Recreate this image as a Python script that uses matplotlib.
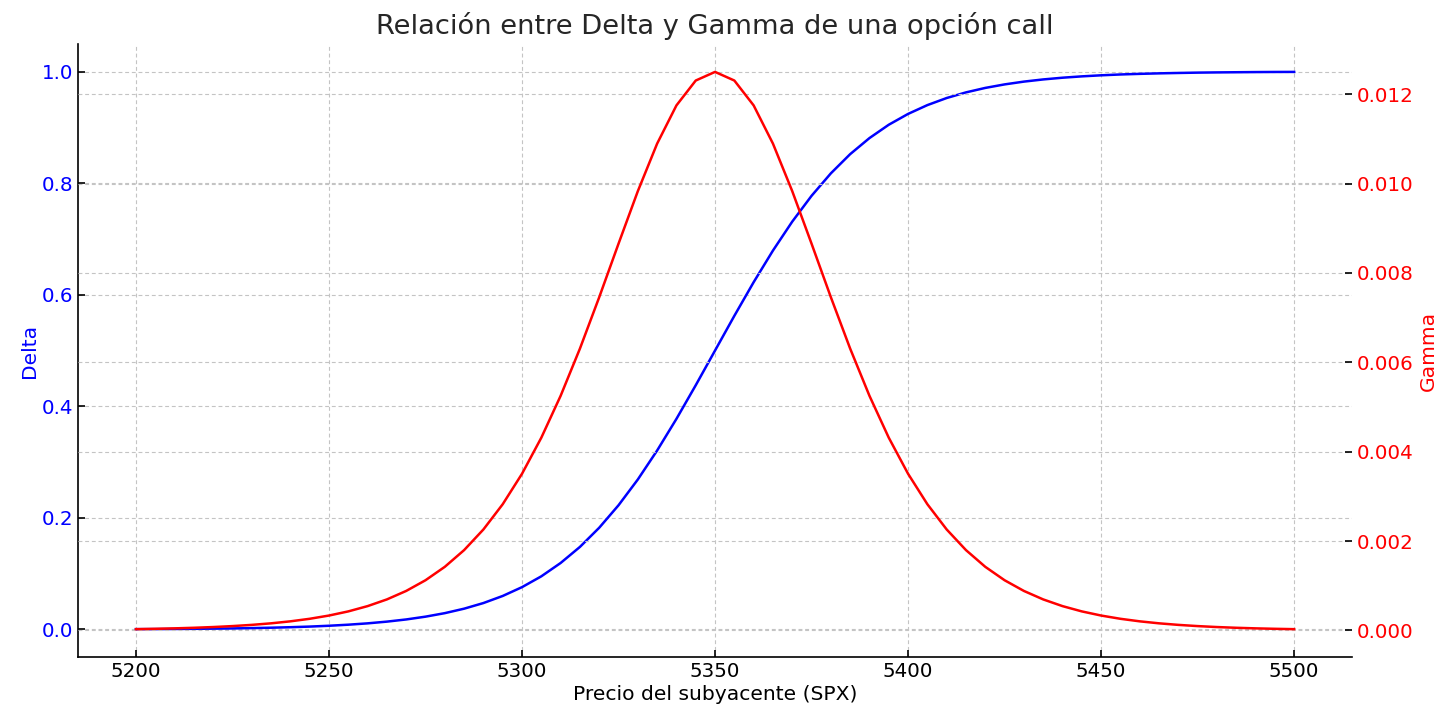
import numpy as np
import matplotlib
matplotlib.use("Agg")
import matplotlib.pyplot as plt

# Underlying price grid (SPX), step 5
precio = np.arange(5200, 5501, 5)

# Delta of the call
delta = [0.0006, 0.0007, 0.0009, 0.0012, 0.0015, 0.0019, 0.0025, 0.0032,
         0.0041, 0.0052, 0.0067, 0.0086, 0.0110, 0.0141, 0.0180, 0.0230,
         0.0293, 0.0373, 0.0474, 0.0601, 0.0759, 0.0953, 0.1192, 0.1480,
         0.1824, 0.2227, 0.2689, 0.3208, 0.3775, 0.4378, 0.5000, 0.5622,
         0.6225, 0.6792, 0.7311, 0.7773, 0.8176, 0.8520, 0.8808, 0.9047,
         0.9241, 0.9399, 0.9526, 0.9627, 0.9707, 0.9770, 0.9820, 0.9859,
         0.9890, 0.9914, 0.9933, 0.9948, 0.9959, 0.9968, 0.9975, 0.9981,
         0.9985, 0.9988, 0.9991, 0.9993, 0.9994]

# Gamma of the call
gamma = [0.0000276, 0.0000355, 0.0000455, 0.0000584, 0.0000749, 0.0000962,
         0.0001234, 0.0001581, 0.0002027, 0.0002596, 0.0003324, 0.0004251,
         0.0005433, 0.0006933, 0.0008831, 0.0011224, 0.0014226, 0.0017967,
         0.0022588, 0.0028238, 0.0035052, 0.0043129, 0.0052498, 0.0063066,
         0.0074573, 0.0086553, 0.0098306, 0.0108947, 0.0117502, 0.0123070,
         0.0125000,
         0.0123070, 0.0117502, 0.0108947, 0.0098306, 0.0086553, 0.0074573,
         0.0063066, 0.0052498, 0.0043129, 0.0035052, 0.0028238, 0.0022588,
         0.0017967, 0.0014226, 0.0011224, 0.0008831, 0.0006933, 0.0005433,
         0.0004251, 0.0003324, 0.0002596, 0.0002027, 0.0001581, 0.0001234,
         0.0000962, 0.0000749, 0.0000584, 0.0000455, 0.0000355, 0.0000276]

fs_tick = 14.3
fs_lab = 14.6
grid_kw = dict(linestyle=(0, (3.5, 2.5)), color='#c4c4c4', lw=0.8)

fig = plt.figure(figsize=(14.56, 7.22), dpi=100)
ax1 = fig.add_axes([0.0536, 0.090, 0.875, 0.849])

ax1.plot(precio, delta, color='blue', lw=1.8)
ax1.set_xlabel('Precio del subyacente (SPX)', fontsize=fs_lab, labelpad=3)
ax1.set_ylabel('Delta', color='blue', fontsize=fs_lab, labelpad=2)
ax1.tick_params(axis='y', labelcolor='blue')
ax1.tick_params(direction='in', labelsize=fs_tick, length=5, width=1.2)
ax1.set_xticks([5200, 5250, 5300, 5350, 5400, 5450, 5500])
ax1.grid(True, **grid_kw)
ax1.spines['top'].set_visible(False)
ax1.spines['right'].set_visible(False)
ax1.spines['left'].set_linewidth(1.2)
ax1.spines['bottom'].set_linewidth(1.2)

ax2 = ax1.twinx()
ax2.plot(precio, gamma, color='red', lw=1.8)
ax2.set_ylabel('Gamma', color='red', fontsize=fs_lab)
ax2.tick_params(axis='y', labelcolor='red')
ax2.tick_params(direction='in', labelsize=fs_tick, length=5, width=1.2)
ax2.grid(True, **grid_kw)
for s in ax2.spines.values():
    s.set_visible(False)

ax1.set_title('Relación entre Delta y Gamma de una opción call',
              fontsize=19.6, color='#262626', pad=7)

fig.savefig('out.png', dpi=100)
